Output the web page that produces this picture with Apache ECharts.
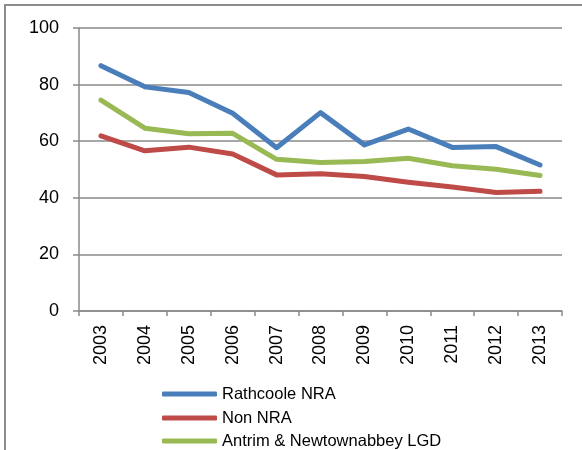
<!DOCTYPE html>
<html>
<head>
<meta charset="utf-8">
<script src="https://cdn.jsdelivr.net/npm/echarts@6/dist/echarts.min.js"></script>
<style>
  html, body { margin: 0; padding: 0; background: #fff; }
  #chart { position: absolute; left: 0; top: 0; width: 582px; height: 450px; }
  #frame { position: absolute; left: 4px; top: 4px; width: 700px; height: 600px;
           border-left: 2px solid #8c8c8c; border-top: 2px solid #8c8c8c; pointer-events: none; }
</style>
</head>
<body>
<div id="chart"></div>
<div id="frame"></div>
<script>
const years = ['2003','2004','2005','2006','2007','2008','2009','2010','2011','2012','2013'];
const rathcoole = [86.7, 79.2, 77.2, 69.9, 57.7, 70.1, 58.7, 64.3, 57.8, 58.1, 51.6];
const nonNRA = [61.9, 56.6, 57.9, 55.5, 48.1, 48.5, 47.5, 45.5, 43.8, 41.9, 42.3];
const antrim = [74.5, 64.6, 62.6, 62.8, 53.6, 52.5, 52.8, 54.0, 51.3, 50.1, 47.9];
const seriesNames = ['Rathcoole NRA', 'Non NRA', 'Antrim & Newtownabbey LGD'];
const colors = ['#4A7EBB', '#BE4B48', '#98B954'];

const font = '"Liberation Sans", Arial, sans-serif';
const chart = echarts.init(document.getElementById('chart'));
function line(name, data, color) {
  return {
    name: name, type: 'line', data: data, symbol: 'none', smooth: false,
    lineStyle: { color: color, width: 5, cap: 'round', join: 'round' },
    itemStyle: { color: color }
  };
}
const legendTops = [380, 404, 427];
const legends = seriesNames.map(function (n, i) {
  return {
    orient: 'vertical', left: 157, top: legendTops[i],
    itemWidth: 55, itemHeight: 5, itemGap: 0,
    icon: 'roundRect',
    textStyle: { color: '#000', fontSize: 16.5, fontFamily: font, lineHeight: 18 },
    data: [n]
  };
});
chart.setOption({
  animation: false,
  color: colors,
  grid: { left: 79, right: 20, top: 28, bottom: 139, containLabel: false },
  xAxis: {
    type: 'category', data: years, boundaryGap: true,
    axisLine: { lineStyle: { color: '#8a8a8a', width: 1.5 } },
    axisTick: { show: true, length: 5, alignWithLabel: false, lineStyle: { color: '#8a8a8a', width: 1.5 } },
    axisLabel: { rotate: 90, margin: 14, color: '#000', fontSize: 18, fontFamily: font }
  },
  yAxis: {
    type: 'value', min: 0, max: 100, interval: 20,
    axisLine: { show: true, lineStyle: { color: '#8a8a8a', width: 1.5 } },
    axisTick: { show: true, length: 6, lineStyle: { color: '#8a8a8a', width: 1.5 } },
    splitLine: { show: true, lineStyle: { color: '#8a8a8a', width: 1.5 } },
    axisLabel: { margin: 20, color: '#000', fontSize: 18, fontFamily: font }
  },
  legend: legends,
  series: [
    line(seriesNames[0], rathcoole, colors[0]),
    line(seriesNames[1], nonNRA, colors[1]),
    line(seriesNames[2], antrim, colors[2])
  ]
});
</script>
</body>
</html>
